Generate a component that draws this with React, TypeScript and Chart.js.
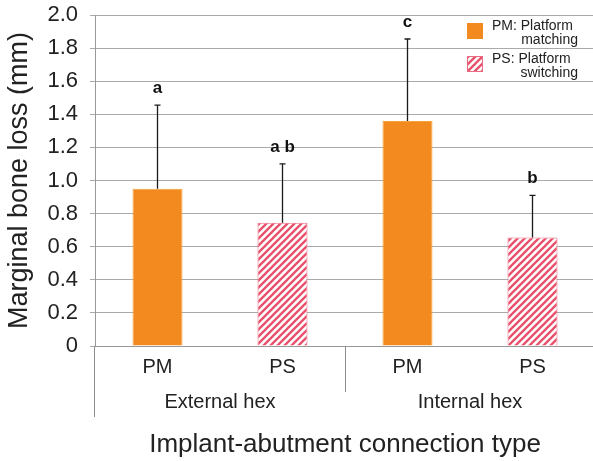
import React, { useEffect, useRef } from "react";
import { Chart, registerables } from "chart.js";

Chart.register(...registerables);

const categories = ["PM", "PS", "PM", "PS"];
const groups = ["External hex", "Internal hex"];
const meanLoss = [0.95, 0.745, 1.36, 0.655];
const sdLoss = [0.505, 0.355, 0.495, 0.255];
const sigLetters = ["a", "a b", "c", "b"];
const yTickLabels = ["0", "0.2", "0.4", "0.6", "0.8", "1.0", "1.2", "1.4", "1.6", "1.8", "2.0"];
const legendLines = [
  ["PM: Platform", "matching"],
  ["PS: Platform", "switching"],
];
const yTitle = "Marginal bone loss (mm)";
const xTitle = "Implant-abutment connection type";

const FONT = "'Liberation Sans', Arial, Helvetica, sans-serif";
const ORANGE = "#F28A1F";
const PINK = "#E8506A";

function makeHatch(): CanvasPattern | string {
  const s = 7;
  const c = document.createElement("canvas");
  c.width = s;
  c.height = s;
  const ctx = c.getContext("2d");
  if (!ctx) return PINK;
  ctx.fillStyle = "#ffffff";
  ctx.fillRect(0, 0, s, s);
  ctx.strokeStyle = PINK;
  ctx.lineWidth = 2.3;
  ctx.beginPath();
  ctx.moveTo(0, s);
  ctx.lineTo(s, 0);
  ctx.moveTo(-2, 2);
  ctx.lineTo(2, -2);
  ctx.moveTo(s - 2, s + 2);
  ctx.lineTo(s + 2, s - 2);
  ctx.stroke();
  return ctx.createPattern(c, "repeat") || PINK;
}

export default function App() {
  const ref = useRef<HTMLCanvasElement | null>(null);

  useEffect(() => {
    const canvas = ref.current;
    if (!canvas) return;
    const hatch = makeHatch();
    const fills = categories.map((c) => (c === "PM" ? ORANGE : hatch));
    const borders = categories.map((c) => (c === "PM" ? "#F5A23A" : "#EA6A80"));

    const overlay = {
      id: "overlay",
      afterDatasetsDraw(chart: any) {
        const ctx = chart.ctx;
        const x = chart.scales.x;
        const y = chart.scales.y;
        ctx.save();
        meanLoss.forEach((m, i) => {
          const px = x.getPixelForValue(i);
          const top = y.getPixelForValue(m + sdLoss[i]);
          const base = y.getPixelForValue(m);
          ctx.strokeStyle = "#1a1a1a";
          ctx.lineWidth = 1.3;
          ctx.beginPath();
          ctx.moveTo(px, base);
          ctx.lineTo(px, top);
          ctx.moveTo(px - 3, top);
          ctx.lineTo(px + 3, top);
          ctx.stroke();
          ctx.fillStyle = "#111";
          ctx.font = `bold 17px ${FONT}`;
          ctx.textAlign = "center";
          ctx.textBaseline = "alphabetic";
          ctx.fillText(sigLetters[i], px, top - 12);
        });
        ctx.restore();
      },
      afterDraw(chart: any) {
        const ctx = chart.ctx;
        const x = chart.scales.x;
        const area = chart.chartArea;
        ctx.save();
        ctx.strokeStyle = "#8c8c8c";
        ctx.lineWidth = 1;
        const mid = (x.getPixelForValue(1) + x.getPixelForValue(2)) / 2;
        ctx.beginPath();
        ctx.moveTo(Math.round(area.left) - 0.5, area.bottom);
        ctx.lineTo(Math.round(area.left) - 0.5, area.bottom + 71);
        ctx.moveTo(Math.round(mid) + 0.5, area.bottom);
        ctx.lineTo(Math.round(mid) + 0.5, area.bottom + 46);
        ctx.stroke();
        ctx.fillStyle = "#222";
        ctx.font = `20px ${FONT}`;
        ctx.textAlign = "center";
        ctx.textBaseline = "middle";
        groups.forEach((g, gi) => {
          const cx = (x.getPixelForValue(gi * 2) + x.getPixelForValue(gi * 2 + 1)) / 2;
          ctx.fillText(g, cx, area.bottom + 56);
        });
        const lx = 467;
        const rows = [23, 56];
        rows.forEach((ry, ri) => {
          ctx.fillStyle = ri === 0 ? ORANGE : (hatch as any);
          ctx.fillRect(lx, ry, 16, 16);
          if (ri === 1) {
            ctx.strokeStyle = "#EA6A80";
            ctx.lineWidth = 1;
            ctx.strokeRect(lx + 0.5, ry + 0.5, 15, 15);
          }
          ctx.fillStyle = "#222";
          ctx.font = `14px ${FONT}`;
          ctx.textBaseline = "middle";
          ctx.textAlign = "left";
          ctx.fillText(legendLines[ri][0], 492, ry + 3);
          ctx.textAlign = "right";
          ctx.fillText(legendLines[ri][1], 578, ry + 17);
        });
        ctx.restore();
      },
    };

    const chart = new Chart(canvas, {
      type: "bar",
      data: {
        labels: categories,
        datasets: [
          {
            data: meanLoss,
            backgroundColor: fills as any,
            borderColor: borders,
            borderWidth: 1,
            barPercentage: 0.4,
            categoryPercentage: 1,
          },
        ],
      },
      options: {
        responsive: false,
        animation: false,
        devicePixelRatio: 1,
        layout: { padding: { top: 15, left: 0, right: 0, bottom: 0 } },
        plugins: { legend: { display: false }, tooltip: { enabled: false } },
        scales: {
          x: {
            offset: true,
            grid: { display: false, drawTicks: false },
            border: { display: true, color: "#999", width: 1 },
            ticks: { color: "#222", font: { family: FONT, size: 20 }, padding: 9 },
            title: {
              display: true,
              text: xTitle,
              color: "#222",
              font: { family: FONT, size: 26 },
              padding: { top: 0, bottom: 1 },
            },
            afterFit: (s: any) => {
              s.height = 115;
            },
          },
          y: {
            min: 0,
            max: 2,
            ticks: {
              stepSize: 0.2,
              color: "#222",
              font: { family: FONT, size: 22 },
              padding: 12,
              callback: (_v: any, i: number) => yTickLabels[i],
            },
            grid: { color: "#aaaaaa", lineWidth: 1, tickLength: 5, drawTicks: true },
            border: { display: true, color: "#999", width: 1 },
            title: {
              display: true,
              text: yTitle,
              color: "#222",
              font: { family: FONT, size: 27 },
              padding: { top: 3, bottom: 0 },
            },
            afterFit: (s: any) => {
              s.width = 95;
              s.paddingTop = 0;
              s.paddingBottom = 0;
            },
          },
        },
      },
      plugins: [overlay],
    });
    return () => chart.destroy();
  }, []);

  return (
    <div
      style={{
        position: "absolute",
        left: 0,
        top: 0,
        width: 593,
        height: 461,
        overflow: "hidden",
        background: "#fff",
      }}
    >
      <canvas ref={ref} width={595} height={461} style={{ display: "block", width: 595, height: 461 }} />
    </div>
  );
}
